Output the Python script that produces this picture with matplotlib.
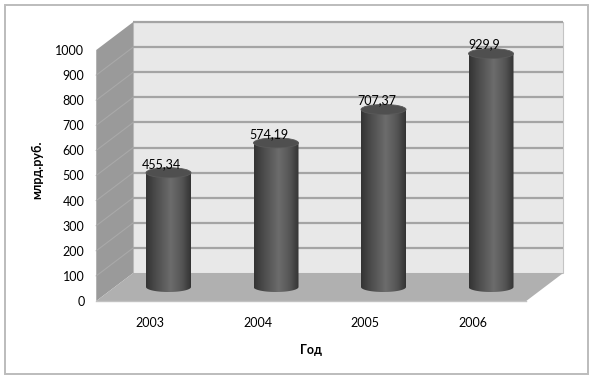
import matplotlib
matplotlib.use('Agg')
import matplotlib.pyplot as plt
import numpy as np
from matplotlib.patches import Polygon, Rectangle, Ellipse, PathPatch
from matplotlib.path import Path
from matplotlib.colors import LinearSegmentedColormap

# ---- data ----
years = ['2003', '2004', '2005', '2006']
values = [455.34, 574.19, 707.37, 929.9]
value_labels = ['455,34', '574,19', '707,37', '929,9']
y_ticks = list(range(0, 1001, 100))
y_label = 'млрд.руб.'
x_label = 'Год'

W, H = 596, 381
plt.rcParams['font.family'] = ['Lato', 'DejaVu Sans']
fig = plt.figure(figsize=(W / 100, H / 100), dpi=100)

# figure frame
fig.add_artist(Rectangle((5 / W, 7 / H), 583 / W, 369 / H, transform=fig.transFigure,
                         fill=False, edgecolor='#bcbcbc', lw=1.4))

ax = fig.add_axes([96.25 / W, 80 / H, 430 / W, 251 / H])
x0, x1 = -0.5, len(years) - 0.5
ymax = 1000
ax.set_xlim(x0, x1)
ax.set_ylim(0, ymax)

# depth offset in data units (37 px right, 28 px up)
px_x = 430 / (x1 - x0)
px_y = 251 / ymax
DX = 37 / px_x
DY = 28 / px_y

# back wall
ax.add_patch(Rectangle((x0 + DX, DY), x1 - x0, ymax, facecolor='#e8e8e8',
                       edgecolor='#c4c4c4', lw=0.8, zorder=1, clip_on=False))
# side wall
ax.add_patch(Polygon([(x0, 0), (x0 + DX, DY), (x0 + DX, ymax + DY), (x0, ymax)],
                     closed=True, facecolor='#9a9a9a', edgecolor='none', zorder=2, clip_on=False))
# floor
ax.add_patch(Polygon([(x0, 0), (x1, 0), (x1 + DX, DY), (x0 + DX, DY)],
                     closed=True, facecolor='#b0b0b0', edgecolor='none', zorder=2, clip_on=False))
ax.plot([x0, x1], [0, 0], color='#c2c2c2', lw=1.0, zorder=2.5, clip_on=False)

# gridlines
for v in y_ticks:
    if v > 0:
        ax.plot([x0 + DX, x1 + DX], [v + DY, v + DY], color='#a4a4a4', lw=1.6,
                zorder=1.5, clip_on=False, solid_capstyle='butt')
    if 0 < v < ymax:
        ax.plot([x0, x0 + DX], [v, v + DY], color='#a9a9a9', lw=0.8,
                zorder=2.2, clip_on=False)

# cylinders
cyl_w = 45 / px_x
r = cyl_w / 2
eh = 10 / px_y
cmap = LinearSegmentedColormap.from_list('cyl', [
    (0.0, '#333333'), (0.2, '#4a4a4a'), (0.55, '#6c6c6c'),
    (0.8, '#555555'), (1.0, '#333333')])
grad = np.linspace(0, 1, 256).reshape(1, -1)
top_cmap = LinearSegmentedColormap.from_list('top', [
    (0.0, '#3e3e3e'), (0.5, '#555555'), (1.0, '#4a4a4a')])

for i, v in enumerate(values):
    cx = i + DX / 2
    base = DY / 2
    top = v + DY / 2
    t = np.linspace(np.pi, 2 * np.pi, 60)
    verts = [(cx - r, top), (cx - r, base)]
    verts += list(zip(cx + r * np.cos(t), base + (eh / 2) * np.sin(t)))
    verts += [(cx + r, top), (cx - r, top)]
    codes = [Path.MOVETO] + [Path.LINETO] * (len(verts) - 2) + [Path.CLOSEPOLY]
    body = PathPatch(Path(verts, codes), transform=ax.transData)
    im = ax.imshow(grad, cmap=cmap, aspect='auto', extent=[cx - r, cx + r, base - eh, top],
                   zorder=3 + i, interpolation='bilinear')
    im.set_clip_path(body)
    im.set_clip_on(True)
    ax.add_patch(Ellipse((cx, top), cyl_w, eh, facecolor='#4f4f4f', edgecolor='#5a5a5a',
                         lw=0.6, zorder=3.5 + i, clip_on=False))
    ax.annotate(value_labels[i], (cx, top), xytext=(-5, 6.5), textcoords='offset points',
                ha='center', va='center', fontsize=9, color='black', zorder=10)

ax.set_xlim(x0, x1)
ax.set_ylim(0, ymax)

for s in ax.spines.values():
    s.set_visible(False)
ax.set_yticks(y_ticks)
ax.set_xticks(range(len(years)), years)
ax.tick_params(axis='y', length=0, pad=8.5, labelsize=9)
ax.tick_params(axis='x', length=0, pad=11.5, labelsize=9)
ax.set_facecolor('none')

ax.set_ylabel(y_label, fontsize=9, fontweight='bold')
ax.yaxis.set_label_coords((37 - 96.25) / 430, (301 - 170) / 251)
ax.yaxis.label.set_va('center')
ax.set_xlabel(x_label, fontsize=9, fontweight='bold')
ax.xaxis.set_label_coords(0.5, (301 - 350) / 251)
ax.xaxis.label.set_va('center')

fig.savefig('out.png', dpi=100)
